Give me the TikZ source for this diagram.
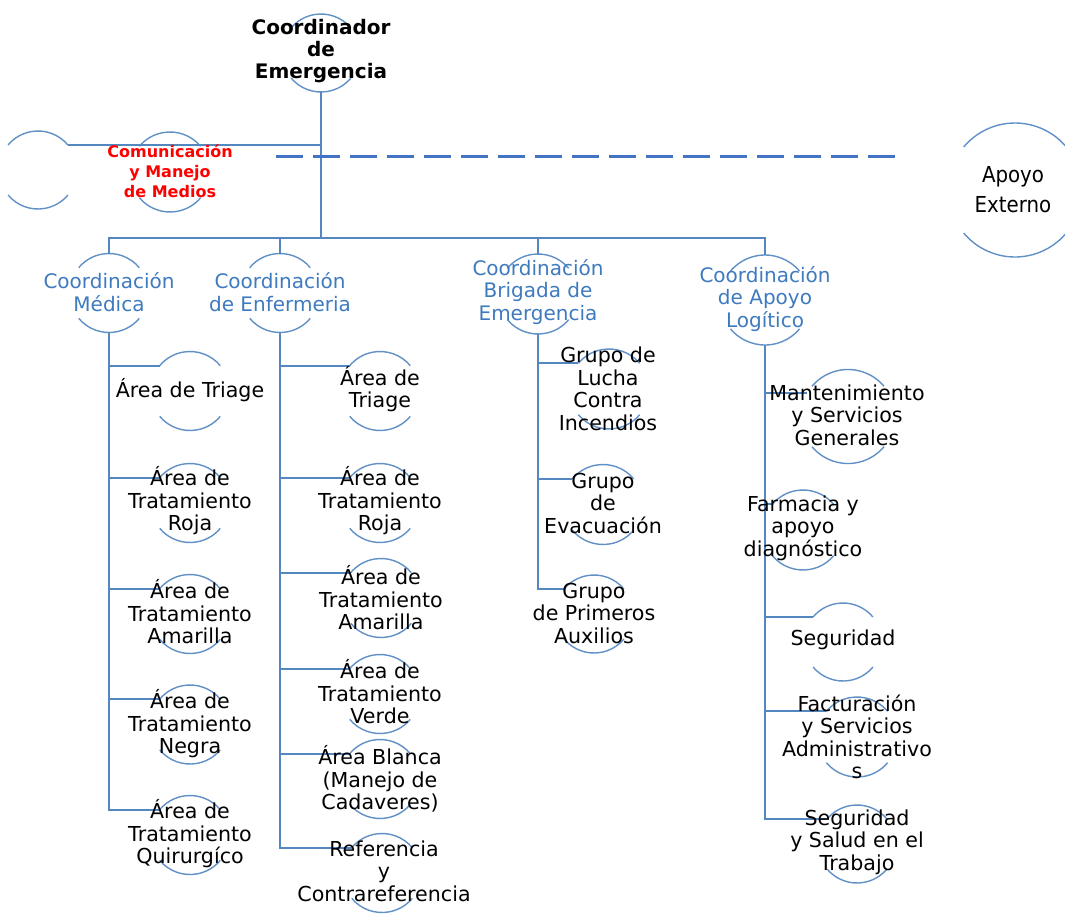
\documentclass[tikz,border=0pt]{standalone}
\usepackage{fontspec}
\setmainfont{DejaVu Sans}
\newfontfamily\condfont{DejaVu Sans Condensed}
\definecolor{linea}{RGB}{84,134,192}
\definecolor{aro}{RGB}{96,144,198}
\definecolor{azul}{RGB}{62,122,190}
\definecolor{guion}{RGB}{68,114,196}
\newcommand{\arcos}[2]{%
\draw[arco] (#1.40) arc[start angle=40, end angle=140, radius=#2pt];
\draw[arco] (#1.220) arc[start angle=220, end angle=320, radius=#2pt];}

\begin{document}
\begin{tikzpicture}[x=1pt, y=-1pt,
ring/.style={circle, inner sep=0pt, outer sep=0pt, minimum size=#1pt},
arco/.style={aro, line width=1.4pt},
link/.style={linea, line width=2.2pt},
guiones/.style={guion, line width=3pt, dash pattern=on 27pt off 10pt},
txt/.style={align=center, inner sep=0pt, font=\fontsize{20.6}{22.5}\selectfont},
jefetxt/.style={txt, font=\fontsize{20}{22}\selectfont\bfseries},
comtxt/.style={txt, text=red, font=\fontsize{16}{20}\selectfont\bfseries},
exttxt/.style={txt, font=\condfont\fontsize{22}{30}\selectfont},
coordtxt/.style={txt, text=azul, font=\fontsize{20}{22.5}\selectfont}]
\useasboundingbox (0,0) rectangle (1065,916);
% rings
\node[ring=78] (jefe) at (321,53){};
\node[ring=78] (izq) at (38,170){};
\node[ring=80] (com) at (170,172){};
\node[ring=134] (ext) at (1015,190){};
\node[ring=79] (med) at (109,293){};
\node[ring=79] (enf) at (280,293){};
\node[ring=80] (bri) at (538,294){};
\node[ring=90] (apo) at (765,300){};
\node[ring=79] (med1) at (190,391){};
\node[ring=79] (med2) at (190,503){};
\node[ring=79] (med3) at (190,614){};
\node[ring=79] (med4) at (190,724.5){};
\node[ring=79] (med5) at (190,835){};
\node[ring=79] (enf1) at (380,391){};
\node[ring=79] (enf2) at (380,503){};
\node[ring=79] (enf3) at (381,598){};
\node[ring=79] (enf4) at (380,694){};
\node[ring=79] (enf5) at (380,779){};
\node[ring=79] (enf6) at (382,873){};
\node[ring=80] (bri1) at (609,389){};
\node[ring=80] (bri2) at (603,504.5){};
\node[ring=78] (bri3) at (594,614){};
\node[ring=94] (apo1) at (848,416.5){};
\node[ring=80] (apo2) at (803,530){};
\node[ring=78] (apo3) at (843,642){};
\node[ring=80] (apo4) at (857,737){};
\node[ring=78] (apo5) at (857,844){};
\arcos{jefe}{39}
\arcos{izq}{39}
\arcos{com}{40}
\arcos{ext}{67}
\arcos{med}{39.5}
\arcos{enf}{39.5}
\arcos{bri}{40}
\arcos{apo}{45}
\arcos{med1}{39.5}
\arcos{med2}{39.5}
\arcos{med3}{39.5}
\arcos{med4}{39.5}
\arcos{med5}{39.5}
\arcos{enf1}{39.5}
\arcos{enf2}{39.5}
\arcos{enf3}{39.5}
\arcos{enf4}{39.5}
\arcos{enf5}{39.5}
\arcos{enf6}{39.5}
\arcos{bri1}{40}
\arcos{bri2}{40}
\arcos{bri3}{39}
\arcos{apo1}{47}
\arcos{apo2}{40}
\arcos{apo3}{39}
\arcos{apo4}{40}
\arcos{apo5}{39}
% connectors
\coordinate (bus) at (321,238);
\coordinate (d0) at (276,156);
\coordinate (d1) at (900,156);
\draw[link](jefe.south) -- (bus);
\draw[link](izq.40) -- (izq.40 -| jefe.south);
\draw[guiones](d0) -- (d1);
\draw[link](med.north) |- (bus);
\draw[link](enf.north) |- (bus);
\draw[link](bri.north) |- (bus);
\draw[link](apo.north) |- (bus);
\draw[link](med.south) |- (med1.140);
\draw[link](med.south) |- (med2.140);
\draw[link](med.south) |- (med3.140);
\draw[link](med.south) |- (med4.140);
\draw[link](med.south) |- (med5.140);
\draw[link](enf.south) |- (enf1.140);
\draw[link](enf.south) |- (enf2.140);
\draw[link](enf.south) |- (enf3.140);
\draw[link](enf.south) |- (enf4.140);
\draw[link](enf.south) |- (enf5.140);
\draw[link](enf.south) |- (enf6.140);
\draw[link](bri.south) |- (bri1.140);
\draw[link](bri.south) |- (bri2.140);
\draw[link](bri.south) |- (bri3.140);
\draw[link](apo.south) |- (apo1.150);
\draw[link](apo.south) |- (apo2.140);
\draw[link](apo.south) |- (apo3.140);
\draw[link](apo.south) |- (apo4.140);
\draw[link](apo.south) |- (apo5.140);
% texts
\node[jefetxt] (jefe-t) at (321,51){Coordinador\\de\\Emergencia};
\node[comtxt] (com-t) at (170,171){Comunicación\\y Manejo\\de Medios};
\node[exttxt] (ext-t) at (1013,190){Apoyo\\Externo};
\node[coordtxt] (med-t) at (109,292){Coordinación\\Médica};
\node[coordtxt] (enf-t) at (280,292){Coordinación\\de Enfermeria};
\node[coordtxt] (bri-t) at (538,292){Coordinación\\Brigada de\\Emergencia};
\node[coordtxt] (apo-t) at (765,299){Coordinación\\de Apoyo\\Logítico};
\node[txt] (med1-t) at (190,390){Área de Triage};
\node[txt] (med2-t) at (190,501){Área de\\Tratamiento\\Roja};
\node[txt] (med3-t) at (190,612){Área de\\Tratamiento\\Amarilla};
\node[txt] (med4-t) at (190,724){Área de\\Tratamiento\\Negra};
\node[txt] (med5-t) at (190,834){Área de\\Tratamiento\\Quirurgíco};
\node[txt] (enf1-t) at (380,389){Área de\\Triage};
\node[txt] (enf2-t) at (380,501){Área de\\Tratamiento\\Roja};
\node[txt] (enf3-t) at (381,598){Área de\\Tratamiento\\Amarilla};
\node[txt] (enf4-t) at (380,692){Área de\\Tratamiento\\Verde};
\node[txt] (enf5-t) at (380,779){Área Blanca\\(Manejo de\\Cadaveres)};
\node[txt] (enf6-t) at (384,871){Referencia\\y\\Contrareferencia};
\node[txt] (bri1-t) at (608,389){Grupo de\\Lucha\\Contra\\Incendios};
\node[txt] (bri2-t) at (603,503){Grupo\\de\\Evacuación};
\node[txt] (bri3-t) at (594,613){Grupo\\de Primeros\\Auxilios};
\node[txt] (apo1-t) at (847,415){Mantenimiento\\y Servicios\\Generales};
\node[txt] (apo2-t) at (803,528){Farmacia y\\apoyo\\diagnóstico};
\node[txt] (apo3-t) at (843,640){Seguridad};
\node[txt] (apo4-t) at (857,737){Facturación\\y Servicios\\Administrativo\\s};
\node[txt] (apo5-t) at (857,842){Seguridad\\y Salud en el\\Trabajo};
\end{tikzpicture}
\end{document}
